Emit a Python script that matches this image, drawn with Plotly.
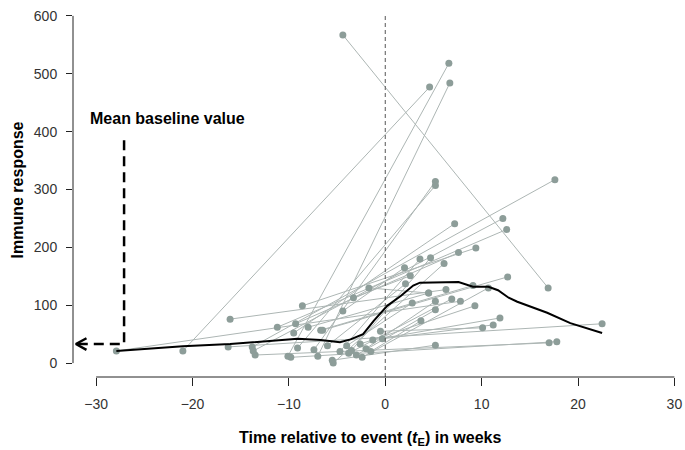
import plotly.graph_objects as go

# each subject: first visit (week, response) and second visit (week, response)
start_week = [-27.9, -21.0, -16.3, -16.1, -13.5, -9.8, -13.8, -13.7, -11.2, -9.5,
              -9.3, -8.6, -4.4, -10.1, -7.0, -7.4, -9.1, -6.5, -6.7, -5.4,
              -3.8, -2.4, -2.6, -1.3, -0.3, -0.5, -4.7, -3.5, -4.4, -3.3,
              -1.7, -4.0, -2.0, -3.0, -1.5, -5.5, -6.0, -8.0]
start_value = [21, 21, 28, 76, 14, 10, 28, 21, 62, 52,
               68, 99, 567, 12, 12, 23, 26, 57, 57, 0,
               17, 10, 33, 40, 42, 55, 20, 22, 90, 113,
               130, 30, 25, 14, 20, 5, 30, 62]
end_week = [7.8, 4.6, 22.5, 6.3, 17.0, 17.8, 17.6, 12.2, 12.6, 7.2,
            7.6, 9.4, 16.9, 6.6, 6.7, 5.2, 5.2, 12.7, 9.1, 6.1,
            6.9, 10.7, 9.3, 11.9, 11.2, 10.1, 3.6, 4.7, 2.0, 2.6,
            4.5, 2.8, 5.2, 5.2, 3.7, 5.2, 2.1, 4.5]
end_value = [107, 477, 68, 127, 35, 37, 317, 250, 231, 241,
             191, 199, 130, 518, 484, 314, 307, 149, 134, 172,
             111, 130, 99, 78, 66, 61, 180, 182, 165, 151,
             121, 104, 107, 92, 73, 31, 137, 121]

# smoothed mean response curve
mean_week = [-27.9, -21.0, -16.1, -13.7, -9.1, -6.7, -4.7, -3.6, -2.3, -1.2,
             0.2, 1.6, 2.9, 3.6, 6.7, 7.6, 9.1, 10.7, 11.7, 12.8,
             13.7, 16.8, 19.2, 22.5]
mean_value = [21, 29, 33, 36, 42, 40, 36, 41, 50, 73,
              99, 116, 134, 139, 140, 140, 132, 132, 126, 113,
              106, 87, 69, 52]

# mean baseline marker
baseline_value = 33
baseline_week = -27.1
baseline_top = 385
arrow_tip_week = -32.1

x_ticks = [-30, -20, -10, 0, 10, 20, 30]
y_ticks = [0, 100, 200, 300, 400, 500, 600]

FONT = "Liberation Sans, Arial, sans-serif"

seg_x, seg_y = [], []
for sw, sv, ew, ev in zip(start_week, start_value, end_week, end_value):
    seg_x += [sw, ew, None]
    seg_y += [sv, ev, None]

fig = go.Figure()
fig.add_trace(go.Scatter(
    x=seg_x, y=seg_y, mode="lines",
    line=dict(color="#adb6b4", width=1), hoverinfo="skip",
))
fig.add_trace(go.Scatter(
    x=start_week + end_week, y=start_value + end_value, mode="markers",
    marker=dict(color="#8d9d99", size=7),
))
fig.add_trace(go.Scatter(
    x=mean_week, y=mean_value, mode="lines",
    line=dict(color="black", width=2),
))
# dashed baseline pointer
fig.add_trace(go.Scatter(
    x=[baseline_week, baseline_week, arrow_tip_week],
    y=[baseline_top, baseline_value, baseline_value],
    mode="lines", line=dict(color="black", width=2.5, dash="10px,6px"),
))
fig.add_trace(go.Scatter(
    x=[arrow_tip_week + 1.1, arrow_tip_week, arrow_tip_week + 1.1],
    y=[baseline_value + 10, baseline_value, baseline_value - 10],
    mode="lines", line=dict(color="black", width=2.5),
))

shapes = [
    # event time
    dict(type="line", xref="x", yref="y", x0=0, x1=0, y0=-24, y1=605,
         line=dict(color="#555555", width=1, dash="4px,3px")),
    # R-style detached axis lines
    dict(type="line", xref="x", yref="paper", x0=x_ticks[0], x1=x_ticks[-1], y0=0, y1=0,
         line=dict(color="#222222", width=1)),
    dict(type="line", xref="paper", yref="y", x0=0, x1=0, y0=y_ticks[0], y1=y_ticks[-1],
         line=dict(color="#222222", width=1)),
]

annotations = [
    dict(text="Mean baseline value", x=-30.8, y=423, xref="x", yref="y",
         xanchor="left", yanchor="middle", showarrow=False,
         font=dict(family=FONT, size=16, color="black", weight="bold")),
    dict(text="Time relative to event (<i>t</i><sub>E</sub>) in weeks",
         x=0.485, y=-0.163, xref="paper", yref="paper", xanchor="center", yanchor="middle",
         showarrow=False, font=dict(family=FONT, size=16, color="black", weight="bold")),
    dict(text="Immune response", x=-0.09, y=0.5, xref="paper", yref="paper",
         xanchor="center", yanchor="middle", textangle=-90, showarrow=False,
         font=dict(family=FONT, size=16, color="black", weight="bold")),
]

fig.update_layout(
    width=685, height=450,
    margin=dict(l=73, r=0, t=2, b=73),
    paper_bgcolor="white", plot_bgcolor="white",
    showlegend=False,
    shapes=shapes, annotations=annotations,
    font=dict(family=FONT, size=14, color="#333333"),
    xaxis=dict(range=[-32.4, 31.1], tickvals=x_ticks, ticks="outside", ticklen=8,
               tickcolor="#222222", showgrid=False, zeroline=False, showline=False,
               ticklabelstandoff=6, ticklabeloverflow="allow"),
    yaxis=dict(range=[-24, 624], tickvals=y_ticks, ticks="outside", ticklen=6,
               tickcolor="#222222", showgrid=False, zeroline=False, showline=False,
               ticklabelstandoff=6, ticklabeloverflow="allow"),
)

# drop the default 8px body margin so the figure fills the window exactly
fig.write_html("out.html", config={"displayModeBar": False},
               post_script="document.body.style.margin='0';")
